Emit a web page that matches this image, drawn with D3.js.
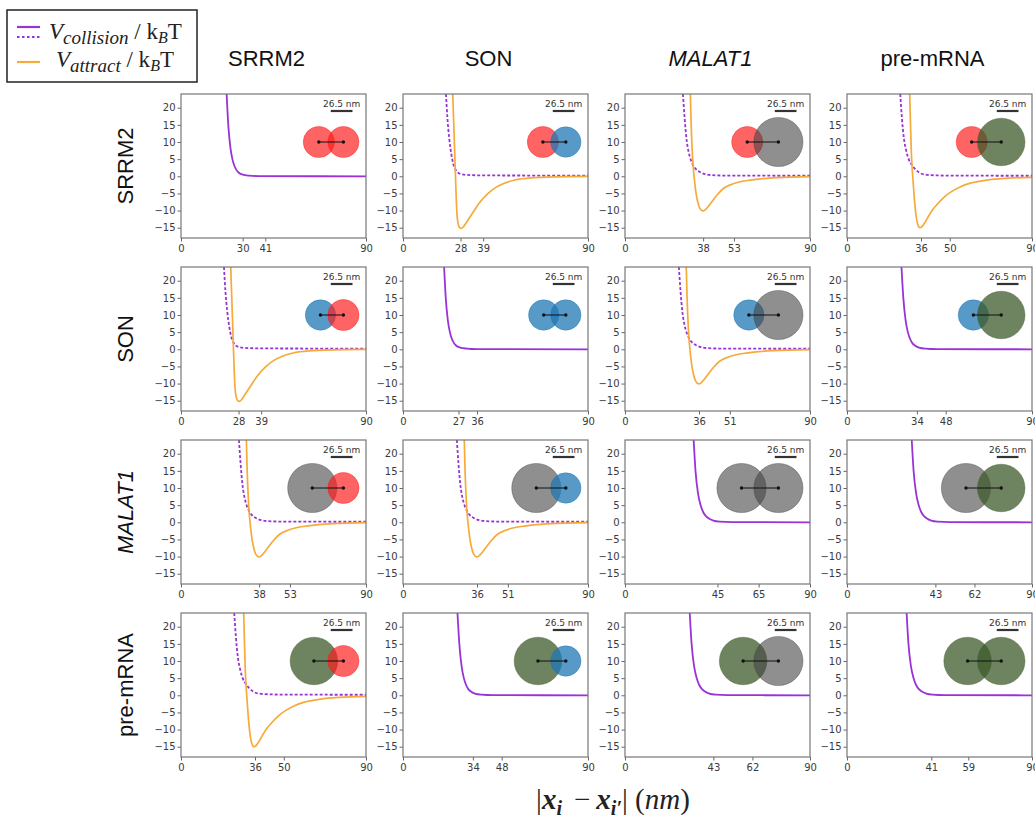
<!DOCTYPE html>
<html>
<head>
<meta charset="utf-8">
<script src="https://cdn.jsdelivr.net/npm/d3@7"></script>
<style>
  body { margin:0; background:#fff; }
  svg { display:block; }
  .tick text { font-family:"DejaVu Sans", sans-serif; font-size:10px; fill:#3a3a3a; }
  .tick line { stroke:#666; }
  .head { font-family:"Liberation Sans", Arial, sans-serif; font-size:22px; fill:#111; }
  .serif { font-family:"Liberation Serif", "DejaVu Serif", serif; fill:#222; }
</style>
</head>
<body>
<div id="chart"></div>
<script>
// names of the four molecules (rows and columns)
const molecules = ["SRRM2", "SON", "MALAT1", "pre-mRNA"];
const italicNames = ["MALAT1"];
// x tick labels in each panel (besides 0 and 90): centre distance and contact distance
const tickCentre = [[30, 28, 38, 36], [28, 27, 36, 34], [38, 36, 45, 43], [36, 34, 43, 41]];
const tickContact = [[41, 39, 53, 50], [39, 36, 51, 48], [53, 51, 65, 62], [50, 48, 62, 59]];
const xTicksEnds = [0, 90];
const yTicks = [20, 15, 10, 5, 0, -5, -10, -15];
const circleRadiusNm = [19, 18.5, 30, 29];
const circleColors = ["#ff1a1a", "#1f77b4", "#444444", "#3e5a2a"];
const circleOpacity = [0.68, 0.75, 0.6, 0.75];
const scaleBarNm = 26.5;

// V_collision / kBT [nm, value]
const vColSRRM2SRRM2 = [[22.2,24],[23,15],[24,8.5],[25,5],[26,3],[27,1.8],[28,1.1],[30,0.5],[33,0.2],[38,0.05],[90,0]];
const vColSONSON = [[20,24],[20.8,15],[21.8,8.5],[22.8,5],[23.8,3],[24.8,1.8],[25.8,1.1],[27.8,0.5],[31,0.2],[36,0.05],[90,0]];
const vColSONPre = [[26.5,24],[27.4,15],[28.5,8.5],[29.6,5],[30.7,3],[31.8,1.8],[33,1.1],[35,0.5],[38,0.2],[44,0.05],[90,0]];
const vColMALAT1MALAT1 = [[33.4,24],[34.3,15],[35.5,8.5],[36.8,5],[38,3],[39.4,1.8],[40.8,1.1],[43,0.5],[46,0.2],[52,0.05],[90,0]];
const vColMALAT1Pre = [[31.5,24],[32.4,15],[33.6,8.5],[34.9,5],[36.1,3],[37.5,1.8],[38.9,1.1],[41,0.5],[44,0.2],[50,0.05],[90,0]];
const vColPrePre = [[29,24],[29.9,15],[31.1,8.5],[32.4,5],[33.6,3],[35,1.8],[36.4,1.1],[38.6,0.5],[41.6,0.2],[47.6,0.05],[90,0]];
const vColSRRM2SON = [[20.9,24],[21.6,17],[22.5,11],[23.5,6.5],[24.5,3.5],[25.5,2],[26.5,1.2],[28,0.7],[31,0.4],[40,0.25],[90,0.2]];
const vColSRRM2MALAT1 = [[28.2,24],[29,17],[30,10.5],[31,7],[31.8,5.2],[33.1,3.3],[34.5,2.1],[36.6,1.2],[39,0.6],[42,0.35],[50,0.2],[90,0.15]];
const vColSRRM2Pre = [[25.9,24],[26.7,17],[27.7,11],[28.8,7.5],[30,5],[31.6,3.3],[33,2.2],[35.7,0.9],[38,0.5],[42,0.3],[50,0.2],[90,0.15]];
const vColSONMALAT1 = [[26.2,24],[27,17],[28,10.5],[29,7],[29.8,5.2],[31.1,3.3],[32.5,2.1],[34.6,1.2],[37,0.6],[40,0.35],[48,0.2],[90,0.15]];

// V_attract / kBT
const vAttSRRM2SON = [[24.2,24],[24.7,15],[25.2,6],[25.7,-3],[26.2,-10.5],[26.8,-13.8],[27.6,-15],[28.4,-15.2],[29.3,-14.8],[30.5,-13.8],[32,-12.4],[34.5,-10.1],[37.5,-7.5],[41,-5.2],[45,-3.3],[49,-2.1],[55,-1.0],[62,-0.45],[74,-0.15],[90,-0.05]];
const vAttSRRM2MALAT1 = [[31.8,24],[32.2,15],[32.7,7.5],[33.1,3.3],[33.6,0],[34.3,-3.8],[35.2,-7],[36.3,-9.2],[37.9,-10.1],[39,-9.8],[40.5,-8.8],[42.5,-7.2],[45,-5.3],[48,-3.5],[52,-2.3],[56,-1.6],[61,-1.1],[67,-0.7],[74,-0.4],[90,-0.1]];
const vAttSRRM2Pre = [[30.5,24],[30.9,15],[31.3,7],[31.6,3.3],[32.1,-1],[32.7,-6],[33.4,-10.5],[34.2,-13.5],[35,-14.8],[35.7,-15],[36.6,-14.6],[38,-13.4],[40,-11.3],[42,-9.5],[44,-8.1],[47,-6.2],[51,-4.4],[55,-3.1],[60,-2],[68,-1.1],[77,-0.6],[90,-0.3]];
const vAttSONMALAT1 = [[29.8,24],[30.2,15],[30.7,7.5],[31.1,3.3],[31.6,0],[32.3,-3.8],[33.2,-7],[34.3,-9.2],[35.9,-10.1],[37,-9.8],[38.5,-8.8],[40.5,-7.2],[43,-5.3],[46,-3.5],[50,-2.3],[54,-1.6],[59,-1.1],[65,-0.7],[72,-0.4],[90,-0.1]];

// pair tables (symmetric)
const collisionCurves = {
  "0-0": vColSRRM2SRRM2, "1-1": vColSONSON, "2-2": vColMALAT1MALAT1, "3-3": vColPrePre,
  "1-3": vColSONPre, "2-3": vColMALAT1Pre,
  "0-1": vColSRRM2SON, "0-2": vColSRRM2MALAT1, "0-3": vColSRRM2Pre, "1-2": vColSONMALAT1
};
const attractCurves = { "0-1": vAttSRRM2SON, "0-2": vAttSRRM2MALAT1, "0-3": vAttSRRM2Pre, "1-2": vAttSONMALAT1 };

let width = 1035, height = 820,
    panelW = 185, panelH = 144,
    colX = [181, 403, 625, 847],
    rowY = [94, 267, 440, 613],
    purple = "#9a33d6", orange = "#f6aa3a";

let svg = d3.select("#chart").append("svg").attr("width", width).attr("height", height);
svg.append("defs").append("clipPath").attr("id", "clip")
   .append("rect").attr("width", panelW).attr("height", panelH);

let xScale = d3.scaleLinear().domain([0, 90]).range([0, panelW]);
let yScale = d3.scaleLinear().domain([-18, 24]).range([panelH, 0]);
let nmPx = d3.scaleLinear().domain([0, 100]).range([0, 82]);
let lineGen = d3.line().x(d => xScale(d[0])).y(d => yScale(d[1])).curve(d3.curveMonotoneX);

molecules.forEach((rowName, r) => {
  molecules.forEach((colName, c) => {
    let key = Math.min(r, c) + "-" + Math.max(r, c);
    let att = attractCurves[key];
    let g = svg.append("g").attr("transform", `translate(${colX[c]},${rowY[r]})`);

    let yAxis = d3.axisLeft(yScale).tickValues(yTicks).tickSize(3.5).tickPadding(2);
    let xAxis = d3.axisBottom(xScale)
        .tickValues([xTicksEnds[0], tickCentre[r][c], tickContact[r][c], xTicksEnds[1]])
        .tickSize(3.5).tickPadding(3);
    g.append("g").call(yAxis).call(a => a.select(".domain").remove());
    g.append("g").attr("transform", `translate(0,${panelH})`).call(xAxis)
      .call(a => a.select(".domain").remove());

    let plot = g.append("g").attr("clip-path", "url(#clip)");
    plot.append("path").attr("d", lineGen(collisionCurves[key]))
      .attr("fill", "none").attr("stroke", purple).attr("stroke-width", 1.8)
      .attr("stroke-dasharray", att ? "3,2" : null);
    if (att) {
      plot.append("path").attr("d", lineGen(att))
        .attr("fill", "none").attr("stroke", orange).attr("stroke-width", 1.7);
    }

    // inset: the two molecules drawn to scale
    let rL = nmPx(circleRadiusNm[r]), rR = nmPx(circleRadiusNm[c]);
    let cxR = 178 - rR, cxL = cxR - nmPx(tickCentre[r][c]), cy = yScale(10);
    [[cxL, rL, r], [cxR, rR, c]].forEach(([cx, rad, m]) => {
      g.append("circle").attr("cx", cx).attr("cy", cy).attr("r", rad)
        .attr("fill", circleColors[m]).attr("fill-opacity", circleOpacity[m])
        .attr("stroke", circleColors[m]).attr("stroke-opacity", 0.5).attr("stroke-width", 0.8);
    });
    g.append("line").attr("x1", cxL).attr("x2", cxR).attr("y1", cy).attr("y2", cy)
      .attr("stroke", "#111").attr("stroke-width", 1);
    [cxL, cxR].forEach(cx => g.append("circle").attr("cx", cx).attr("cy", cy).attr("r", 1.7).attr("fill", "#111"));

    let barR = 171.5, barL = barR - nmPx(scaleBarNm);
    g.append("line").attr("x1", barL).attr("x2", barR).attr("y1", 17).attr("y2", 17)
      .attr("stroke", "#333").attr("stroke-width", 2.2);
    g.append("text").attr("x", (barL + barR) / 2).attr("y", 12.5).attr("text-anchor", "middle")
      .style("font-family", "DejaVu Sans, sans-serif").style("font-size", "9px").style("fill", "#333")
      .text(scaleBarNm + " nm");

    g.append("rect").attr("width", panelW).attr("height", panelH)
      .attr("fill", "none").attr("stroke", "#777").attr("stroke-width", 1.2);
  });
});

// column headers and row labels
molecules.forEach((m, i) => {
  svg.append("text").attr("class", "head").attr("x", colX[i] + panelW / 2 - 7).attr("y", 66)
    .attr("text-anchor", "middle").style("font-style", italicNames.includes(m) ? "italic" : "normal").text(m);
  svg.append("text").attr("class", "head").attr("text-anchor", "middle")
    .attr("transform", `translate(133,${rowY[i] + panelH / 2}) rotate(-90)`)
    .style("font-style", italicNames.includes(m) ? "italic" : "normal").text(m);
});

// legend
let leg = svg.append("g");
leg.append("rect").attr("x", 7).attr("y", 10).attr("width", 190).attr("height", 72)
  .attr("fill", "#fff").attr("stroke", "#222").attr("stroke-width", 1.5);
leg.append("line").attr("x1", 17).attr("x2", 40).attr("y1", 27).attr("y2", 27)
  .attr("stroke", purple).attr("stroke-width", 2.2);
leg.append("line").attr("x1", 17).attr("x2", 40).attr("y1", 37).attr("y2", 37)
  .attr("stroke", purple).attr("stroke-width", 2.2).attr("stroke-dasharray", "2.5,2.5");
leg.append("line").attr("x1", 17).attr("x2", 40).attr("y1", 62).attr("y2", 62)
  .attr("stroke", orange).attr("stroke-width", 2.2);

function potentialLabel(x, y, sub) {
  let t = leg.append("text").attr("class", "serif").attr("x", x).attr("y", y).style("font-size", "23px");
  t.append("tspan").style("font-style", "italic").text("V");
  t.append("tspan").style("font-style", "italic").style("font-size", "19px").attr("dy", 5).text(sub);
  t.append("tspan").attr("dy", -5).text(" / k");
  t.append("tspan").style("font-style", "italic").style("font-size", "16px").attr("dy", 4).text("B");
  t.append("tspan").attr("dy", -4).text("T");
}
potentialLabel(49, 39, "collision");
potentialLabel(56, 67, "attract");

// x axis title
let xt = svg.append("text").attr("class", "serif").attr("x", 613).attr("y", 809)
  .attr("text-anchor", "middle").style("font-size", "29px");
xt.append("tspan").text("|");
xt.append("tspan").style("font-weight", "bold").style("font-style", "italic").text("x");
xt.append("tspan").style("font-weight", "bold").style("font-style", "italic").style("font-size", "20px").attr("dy", 6).text("i");
xt.append("tspan").attr("dy", -6).attr("dx", 12).text("\u2212");
xt.append("tspan").attr("dx", 6).style("font-weight", "bold").style("font-style", "italic").text("x");
xt.append("tspan").style("font-weight", "bold").style("font-style", "italic").style("font-size", "20px").attr("dy", 6).text("i\u2032");
xt.append("tspan").attr("dy", -6).text("| (");
xt.append("tspan").style("font-style", "italic").text("nm");
xt.append("tspan").text(")");
</script>
</body>
</html>
